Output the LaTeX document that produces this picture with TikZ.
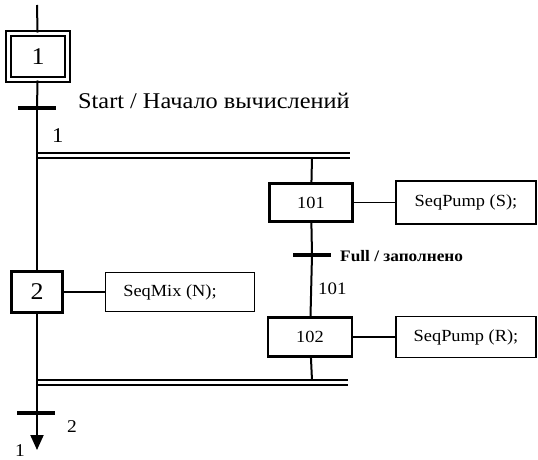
\documentclass[tikz,border=0pt]{standalone}
\usepackage{fontspec}
\setmainfont{Liberation Serif}[FakeStretch=1.08]
\usetikzlibrary{arrows.meta}
\begin{document}
\begin{tikzpicture}[x=1pt,y=-1pt,
  stepbox/.style={draw, line width=2.5pt, inner sep=0pt, font=\fontsize{17}{19}\selectfont},
  initbox/.style={draw, line width=2pt, double, double distance=2.5pt, inner sep=0pt,
    minimum width=59pt, minimum height=46pt, font=\fontsize{24}{26}\selectfont},
  actbox/.style={draw, line width=1.3pt, inner sep=0pt, font=\fontsize{17}{19}\selectfont},
  trans/.style={fill, inner sep=0pt, minimum width=38pt, minimum height=4pt},
  flow/.style={line width=2pt},
  link/.style={line width=1.2pt},
  dbl/.style={line width=1.8pt, double, double distance=3pt},
  lbl/.style={inner sep=0pt, anchor=base west}]
\useasboundingbox (0,0) rectangle (538,460);
% steps
\node[initbox] (s1) at (38,56.5) {1};
\node[stepbox, minimum width=51pt, minimum height=41pt, font=\fontsize{24}{26}\selectfont] (s2) at (37,292) {2};
\node[stepbox, minimum width=83pt, minimum height=38pt] (s101) at (311,202.5) {101};
\node[stepbox, minimum width=84pt, minimum height=39pt] (s102) at (310,337) {102};
% actions
\node[actbox, minimum width=149pt, minimum height=39pt] (a2) at (180,292) {\hspace*{-20pt}SeqMix (N);};
\node[actbox, minimum width=140pt, minimum height=43pt] (a101) at (466,202.5) {SeqPump (S);};
\node[actbox, minimum width=140pt, minimum height=41pt] (a102) at (466,337) {SeqPump (R);};
% transitions
\node[trans] (t1) at (37,108) {};
\node[trans] (t101) at (312,255) {};
\node[trans] (t2) at (36,413) {};
% coordinates
\coordinate (top) at (37,5);
\coordinate (d1L) at (37,155.5);
\coordinate (d1R) at (350,155.5);
\coordinate (d1B) at (312,157.5);
\coordinate (d2L) at (37,382.5);
\coordinate (d2R) at (348,382.5);
\coordinate (d2B) at (312,380.5);
\coordinate (end) at (37,450);
% double lines
\draw[dbl] (d1L) -- (d1R);
\draw[dbl] (d2L) -- (d2R);
% main flow
\draw[flow] (top) -- (s1);
\draw[flow] (s1) -- (t1);
\draw[flow] (t1) -- (s2);
\draw[flow, -{Triangle[width=13pt,length=15pt]}] (s2) -- (end);
% branch
\draw[flow] (d1B) -- (s101);
\draw[flow] (s101) -- (t101);
\draw[flow] (t101) -- (s102);
\draw[flow] (s102) -- (d2B);
% action links
\draw[link] (s2) -- (a2);
\draw[link] (s101) -- (a101);
\draw[link] (s102) -- (a102);
% labels
\node[lbl, font=\fontsize{22.5}{24}\selectfont] (l1) at (78,108) {Start / Начало вычислений};
\node[lbl, font=\fontsize{21}{24}\selectfont] (n1) at (52,142) {1};
\node[lbl, font=\bfseries\fontsize{16}{18}\selectfont] (l101) at (340,261) {Full / заполнено};
\node[lbl, font=\fontsize{17.5}{19}\selectfont] (n101) at (318,294) {101};
\node[lbl, font=\fontsize{18}{20}\selectfont] (n2) at (67,432) {2};
\node[lbl, font=\fontsize{18}{20}\selectfont] (n1b) at (15,456) {1};
\end{tikzpicture}
\end{document}
